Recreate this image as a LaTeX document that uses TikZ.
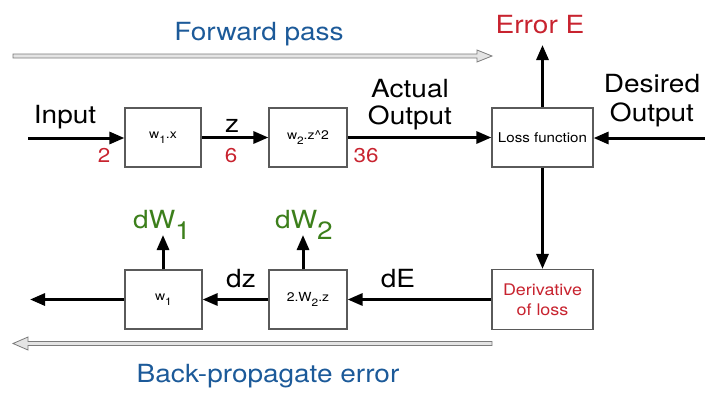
\documentclass[tikz,border=0pt]{standalone}
\usepackage{fontspec}
\setmainfont{TeX Gyre Heros}[FakeStretch=1.12]
\usetikzlibrary{arrows.meta}

\definecolor{errred}{HTML}{C8232F}
\definecolor{gradgreen}{HTML}{3C7F1B}
\definecolor{passblue}{HTML}{1C5A99}
\definecolor{boxgray}{HTML}{5A5A5A}
\definecolor{hollowfill}{HTML}{E4E4E4}

% full-size index set below the baseline
\newcommand\lowidx[1]{\raisebox{-0.45em}{#1}}
% slightly smaller index for the box captions
\newcommand\boxidx[1]{\raisebox{-0.4em}{\scalebox{0.85}{#1}}}

\tikzset{
  box/.style={draw=boxgray, line width=1.2pt, fill=white, inner sep=0pt,
              minimum height=59pt, font=\fontsize{12.5}{15}\selectfont},
  flow/.style={line width=3pt, -{Triangle[length=15pt,width=12pt]}},
  biglabel/.style={inner sep=0pt, font=\fontsize{25}{27}\selectfont},
  numlabel/.style={inner sep=0pt, text=errred, font=\fontsize{20}{22}\selectfont},
  gradlabel/.style={inner sep=0pt, text=gradgreen, font=\fontsize{25}{27}\selectfont},
  passlabel/.style={inner sep=0pt, text=passblue, font=\fontsize{25}{27}\selectfont},
  hollow/.style={draw=boxgray!80, line width=0.8pt, fill=hollowfill},
}

\begin{document}
\begin{tikzpicture}[x=1pt, y=-1pt]
\useasboundingbox (0,0) rectangle (705,392);

% forward chain
\node[box, minimum width=76pt] (fw1) at (163,137.5) {w\boxidx{1}.x};
\node[box, minimum width=78pt] (fw2) at (308,137.5) {w\boxidx{2}.z\textasciicircum 2};
\node[box, minimum width=101pt, font=\fontsize{13.5}{15}\selectfont] (loss) at (542.5,137.5) {Loss function};

% backward chain
\node[box, minimum width=77pt] (bw1) at (163.5,299.5) {w\boxidx{1}};
\node[box, minimum width=78pt] (bw2) at (308,299.5) {2.W\boxidx{2}.z};
\node[box, minimum width=101pt, minimum height=60pt, text=errred, align=center,
      font=\fontsize{16}{20}\selectfont] (dloss) at (542.5,299.5) {Derivative\\of loss};

% free ends of the connectors
\coordinate (inStart) at (28,138);
\coordinate (desStart) at (705,138);
\coordinate (errTip) at (542.5,45);
\coordinate (outTip) at (30,299.5);
\coordinate (dw1Tip) at (163,235);
\coordinate (dw2Tip) at (303,235);

% forward connectors
\draw[flow] (inStart) -- (fw1.west |- inStart);
\draw[flow] (fw1) -- (fw2);
\draw[flow] (fw2) -- (loss);
\draw[flow] (desStart) -- (loss.east |- desStart);
\draw[flow] (loss) -- (errTip);
\draw[flow] (loss) -- (dloss);

% backward connectors
\draw[flow] (dloss) -- (bw2);
\draw[flow] (bw2) -- (bw1);
\draw[flow] (bw1.west) -- (outTip);
\draw[flow] (bw1.north -| dw1Tip) -- (dw1Tip);
\draw[flow] (bw2.north -| dw2Tip) -- (dw2Tip);

% labels
\node[biglabel, anchor=base] (lin) at (65,123) {Input};
\node[biglabel, anchor=base] (lz) at (232,132) {z};
\node[biglabel, align=center] (lact) at (410,105) {Actual\\Output};
\node[biglabel, align=center, font=\fontsize{25}{29}\selectfont] (ldes) at (652,101) {Desired\\Output};
\node[biglabel, anchor=base, text=errred] (lerr) at (540,33) {Error E};
\node[numlabel, anchor=base] (n2) at (104,162) {2};
\node[numlabel, anchor=base] (n6) at (231,162) {6};
\node[numlabel, anchor=base] (n36) at (366,162) {36};
\node[gradlabel, anchor=base west] (ldw1) at (133,228) {dW\lowidx{1}};
\node[gradlabel, anchor=base west] (ldw2) at (275,228) {dW\lowidx{2}};
\node[biglabel, anchor=base] (ldz) at (241,287) {dz};
\node[biglabel, anchor=base] (lde) at (398,287) {dE};

% hollow pass arrows
\filldraw[hollow] (13,54) -- (477,54) -- (477,50) -- (492,56) -- (477,62)
  -- (477,58) -- (13,58) -- cycle;
\filldraw[hollow] (492,341.5) -- (28,341.5) -- (28,337) -- (13,343.5) -- (28,350)
  -- (28,345.5) -- (492,345.5) -- cycle;
\node[passlabel, anchor=base] (lfwd) at (259,40) {Forward pass};
\node[passlabel, anchor=base] (lback) at (268,382) {Back-propagate error};
\end{tikzpicture}
\end{document}
